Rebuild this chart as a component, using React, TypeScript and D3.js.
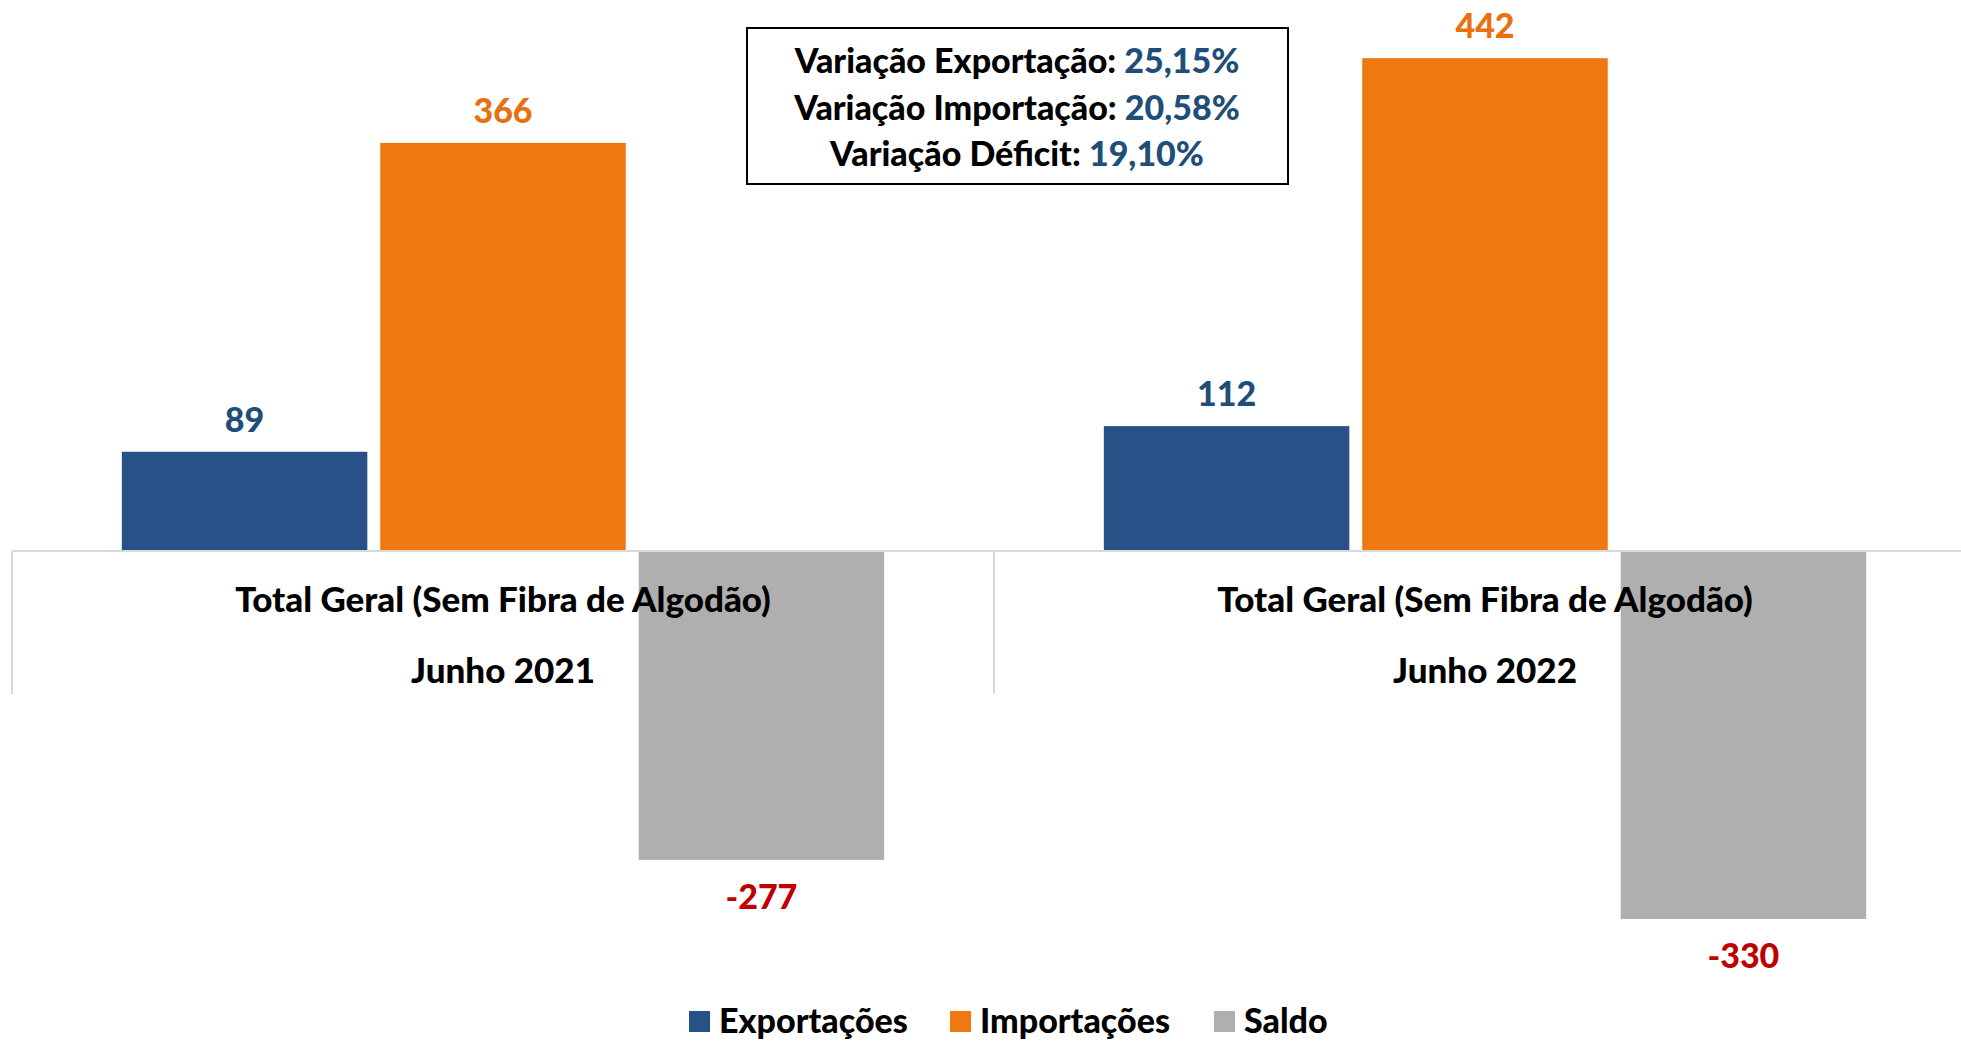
import React from 'react';
import * as d3 from 'd3';

// Chart data
const periods = ['Junho 2021', 'Junho 2022'];
const groupLabel = 'Total Geral (Sem Fibra de Algodão)';
const seriesNames = ['Exportações', 'Importações', 'Saldo'];
const exportacoes = [89, 112];
const importacoes = [366, 442];
const saldo = [-277, -330];
const variationLabels = ['Variação Exportação:', 'Variação Importação:', 'Variação Déficit:'];
const variationValues = ['25,15%', '20,58%', '19,10%'];

const colors = ['#285287', '#f07811', '#afafaf'];
const labelColors = ['#1f4e79', '#e8700f', '#c00000'];

const width = 1961;
const height = 1041;
const font = 'Lato, "Open Sans", sans-serif';

const App = () => {
  const seriesValues = [exportacoes, importacoes, saldo];

  // Scales
  const x0 = d3.scaleBand().domain(periods).range([12, 1976]).paddingInner(0).paddingOuter(0);
  const x1 = d3
    .scaleBand()
    .domain(seriesNames)
    .range([0, x0.bandwidth()])
    .paddingInner(0.05)
    .paddingOuter(0.425);
  const y = d3.scaleLinear().domain([-400, 500]).range([551 + 400 * 1.115, 551 - 500 * 1.115]);
  const y0 = y(0);

  const bars = periods.flatMap((p, i) =>
    seriesNames.map((s, j) => ({ period: p, series: s, j, value: seriesValues[j][i] }))
  );

  // Legend layout
  const legendItems = [
    { name: seriesNames[0], x: 689 },
    { name: seriesNames[1], x: 950 },
    { name: seriesNames[2], x: 1214 },
  ];

  return (
    <svg
      width={width}
      height={height}
      style={{ position: 'absolute', left: 0, top: 0, display: 'block', background: '#fff' }}
      fontFamily={font}
      fontWeight={900}
    >
      {/* bars */}
      {bars.map((d) => {
        const bx = (x0(d.period) as number) + (x1(d.series) as number);
        const top = d.value >= 0 ? y(d.value) : y0;
        const h = Math.abs(y(d.value) - y0);
        return (
          <rect key={d.period + d.series} x={bx} y={top} width={x1.bandwidth()} height={h} fill={colors[d.j]} />
        );
      })}

      {/* category axis */}
      <line x1={12} x2={width} y1={y0} y2={y0} stroke="#d9d9d9" strokeWidth={2} />
      {periods.map((p) => x0(p) as number).map((tx) => (
        <line key={tx} x1={tx} x2={tx} y1={y0} y2={694} stroke="#d9d9d9" strokeWidth={2} />
      ))}
      {periods.map((p) => {
        const cx = (x0(p) as number) + x0.bandwidth() / 2;
        return (
          <g key={p} fontSize={35} fill="#000" textAnchor="middle">
            <text x={cx} y={612}>{groupLabel}</text>
            <text x={cx} y={683}>{p}</text>
          </g>
        );
      })}

      {/* value labels */}
      {bars.map((d) => {
        const cx = (x0(d.period) as number) + (x1(d.series) as number) + x1.bandwidth() / 2;
        const ly = d.value >= 0 ? y(d.value) - 20 : y(d.value) + 49;
        return (
          <text key={'l' + d.period + d.series} x={cx} y={ly} textAnchor="middle" fontSize={34} fill={labelColors[d.j]}>
            {d.value}
          </text>
        );
      })}

      {/* variation box */}
      <rect x={747} y={28} width={541} height={156} fill="#fff" stroke="#000" strokeWidth={2} />
      {variationLabels.map((lbl, i) => (
        <text key={lbl} x={1017} y={73 + i * 46.5} textAnchor="middle" fontSize={34} fill="#000">
          {lbl} <tspan fill="#1f4e79">{variationValues[i]}</tspan>
        </text>
      ))}

      {/* legend */}
      {legendItems.map((item, i) => (
        <g key={item.name}>
          <rect x={item.x} y={1011} width={21} height={21} fill={colors[i]} />
          <text x={item.x + 30} y={1033} fontSize={34} fill="#000">
            {item.name}
          </text>
        </g>
      ))}
    </svg>
  );
};

export default App;
